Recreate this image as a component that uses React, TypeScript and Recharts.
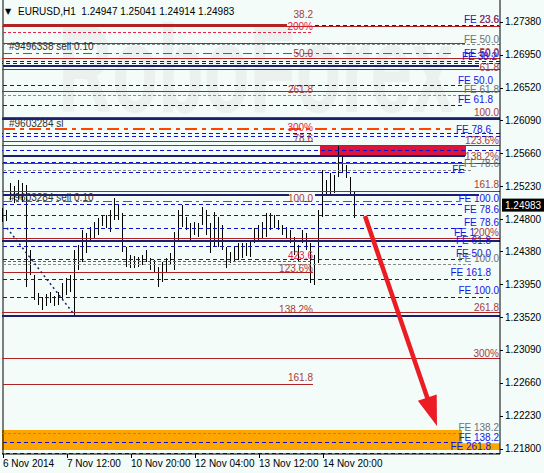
import React from 'react';
import { ComposedChart, Bar, XAxis, YAxis, ReferenceLine, ReferenceArea, ReferenceDot } from 'recharts';

const W = 544;
const H = 473;
const FONT = '"Liberation Sans", Arial, sans-serif';
const BG = '#F3FCF8';

const BROWN = '#B22222';
const BROWN_TEXT = '#A83A3A';
const BLUE = '#1010CC';
const BLUE_TEXT = '#1515E6';
const NAVY = '#1B1F6E';
const GREY = '#8A8A8A';
const GREY_TEXT = '#707070';
const RED = '#E8204A';
const GREEN = '#1E8C1E';
const STOP = '#FF4500';
const ARROW = '#EC1C24';

const titleText = 'EURUSD,H1  1.24947 1.25041 1.24914 1.24983';
const watermarkText = 'RoboForex';
const lastClose = 1.24983;

// H1 bars, one every two hours (hour index = 2 * i)
const highs = [
  1.24945, 1.24919, 1.25272, 1.25233, 1.25311, 1.25272, 1.25246, 1.24396, 1.24070, 1.23834,
  1.23782, 1.23821, 1.23848, 1.23795, 1.23848, 1.23965, 1.24031, 1.24070, 1.24396, 1.24462,
  1.24658, 1.24619, 1.24697, 1.24762, 1.24815, 1.24854, 1.24854, 1.24919, 1.25076, 1.24985,
  1.24880, 1.24436, 1.24331, 1.24318, 1.24305, 1.24331, 1.24396, 1.24292, 1.24266, 1.24174,
  1.24240, 1.24292, 1.24357, 1.24632, 1.24919, 1.24985, 1.24828, 1.24749, 1.24762, 1.24749,
  1.24959, 1.24919, 1.24749, 1.24893, 1.24828, 1.24723, 1.24436, 1.24370, 1.24436, 1.24488,
  1.24488, 1.24488, 1.24527, 1.24684, 1.24723, 1.24762, 1.24880, 1.24880, 1.24854, 1.24789,
  1.24723, 1.24697, 1.24658, 1.24566, 1.24462, 1.24658, 1.24619, 1.24488, 1.24331, 1.24919,
  1.25442, 1.25311, 1.25403, 1.25377, 1.25756, 1.25612, 1.25507, 1.25351, 1.25155,
];
const lows = [
  1.24762, 1.24776, 1.25050, 1.25011, 1.25050, 1.25024, 1.23913, 1.24070, 1.23743, 1.23678,
  1.23612, 1.23665, 1.23704, 1.23665, 1.23678, 1.23743, 1.23808, 1.23848, 1.23547, 1.24135,
  1.24240, 1.24357, 1.24501, 1.24553, 1.24593, 1.24710, 1.24684, 1.24632, 1.24789, 1.24789,
  1.24370, 1.24174, 1.24161, 1.24161, 1.24174, 1.24200, 1.24240, 1.24135, 1.24109, 1.23913,
  1.23978, 1.24109, 1.24200, 1.24135, 1.24527, 1.24697, 1.24658, 1.24501, 1.24593, 1.24566,
  1.24723, 1.24593, 1.24357, 1.24436, 1.24436, 1.24396, 1.24161, 1.24227, 1.24240, 1.24266,
  1.24292, 1.24318, 1.24305, 1.24488, 1.24527, 1.24553, 1.24566, 1.24658, 1.24684, 1.24658,
  1.24593, 1.24553, 1.24488, 1.24331, 1.24240, 1.24488, 1.24396, 1.23965, 1.23939, 1.24227,
  1.24828, 1.25115, 1.25115, 1.25141, 1.25351, 1.25403, 1.25338, 1.25115, 1.24815,
];

const LAST_HOUR = 248;
const yTicks = [1.2738, 1.2695, 1.2652, 1.2609, 1.2566, 1.2523, 1.248, 1.2438, 1.2395, 1.2352, 1.2309, 1.2266, 1.2223, 1.218];
const yDomain = [1.2173, 1.27664];
const xTickHours = [0, 32, 64, 96, 128, 160];
const xTickLabels = ['6 Nov 2014', '7 Nov 12:00', '10 Nov 20:00', '12 Nov 04:00', '13 Nov 12:00', '14 Nov 20:00'];

// levels: [price, from hour, to hour]
const brownLevels = [
  [1.27315, 0, 248], [1.27095, 0, 231], [1.26893, 0, 248], [1.26758, 0, 248], [1.26462, 0, 248],
  [1.26128, 0, 248], [1.25808, 0, 155], [1.25756, 0, 248], [1.25527, 0, 248], [1.25155, 0, 248],
  [1.24549, 0, 248], [1.24096, 0, 155], [1.23586, 0, 248], [1.22981, 0, 248], [1.22641, 0, 155],
];
const brownBoldLevels = [[1.27337, 0, 142]];
const navyLevels = [
  [1.26797, 0, 238], [1.26109, 0, 248], [1.25621, 0, 231], [1.25115, 0, 143], [1.25115, 156, 238],
  [1.24518, 0, 248], [1.23538, 0, 248],
];
const blueLevels = [
  [1.27337, 156, 248], [1.26858, 0, 248], [1.26837, 0, 248], [1.26553, 0, 231], [1.26279, 0, 231],
  [1.25913, 0, 248], [1.25886, 0, 248], [1.25691, 0, 248], [1.25543, 0, 231], [1.25412, 0, 231],
  [1.24991, 0, 230], [1.24848, 0, 230], [1.24680, 0, 230], [1.24440, 0, 231], [1.24272, 0, 231],
  [1.24014, 0, 243], [1.23780, 0, 243], [1.21883, 0, 229], [1.21739, 0, 248],
];
const redDashLevels = [[1.27242, 0, 155], [1.24246, 0, 155]];
const greyLevels = [[1.27080, 0, 248], [1.26413, 0, 233], [1.25442, 0, 235], [1.24210, 0, 235], [1.21992, 0, 229]];
const greenLevels = [[1.26971, 0, 224], [1.25030, 0, 230]];
const stopLevels = [[1.25978, 0, 224]];

// zones: [from hour, to hour, low, high]
const sellZones = [[159, 231, 1.25625, 1.25756]];
const targetZones = [[0, 229, 1.21782, 1.22044], [229, 248, 1.21782, 1.21870]];

const trendLine = [[2, 1.24684], [35, 1.23573]];
const forecastArrow = [[181, 1.24841], [217, 1.22096]];

// labels: [text, hour, price]
const blueLabels = [
  ['FE 23.6', 248, 1.27403], ['FE 50.0', 248, 1.26971], ['FE 38.2', 247, 1.26919], ['FE 50.0', 245, 1.26618],
  ['FE 61.8', 245, 1.26357], ['FE 78.6', 244, 1.25965], ['FE', 231, 1.25455], ['FE 100.0', 248, 1.25063],
  ['FE 78.6', 248, 1.24932], ['FE 78.6', 248, 1.24762], ['FE 1', 236, 1.24619], ['FE 61.8', 244, 1.24527],
  ['FE 50.0', 244, 1.24357], ['FE 161.8', 244, 1.24096], ['FE 100.0', 248, 1.23861], ['FE 138.2', 248, 1.21952],
  ['FE 261.8', 244, 1.21822],
];
const brownLabels = [
  ['38.2', 155, 1.27468], ['23.6', 248, 1.27403], ['50.0', 155, 1.26971], ['50.0', 248, 1.26984],
  ['61.8', 248, 1.26788], ['261.8', 155, 1.26488], ['100.0', 248, 1.26200], ['78.6', 155, 1.25860],
  ['123.6%', 248, 1.25834], ['138.2%', 248, 1.25612], ['161.8', 248, 1.25246], ['100.0', 155, 1.25063],
  ['200%', 248, 1.24619], ['123.6%', 155, 1.24161], ['138.2%', 155, 1.23625], ['261.8', 248, 1.23651],
  ['300%', 248, 1.23050], ['161.8', 155, 1.22724],
];
const redLabels = [['200%', 155, 1.27324], ['300%', 155, 1.25991], ['423.6', 155, 1.24318]];
const greyLabels = [
  ['FE 50.0', 248, 1.27154], ['FE 61.8', 248, 1.26488], ['FE 78.6', 248, 1.25521],
  ['FE 100.0', 248, 1.24279], ['FE 138.2', 248, 1.22070],
];
const orderLabels = [['#9496338 sell 0.10', 3, 1.27050], ['#9603284 sl', 3, 1.26056], ['#9603284 sell 0.10', 3, 1.25089]];

const chartData = Array.from({ length: LAST_HOUR + 1 }, (_, h) => {
  const i = h / 2;
  const has = h % 2 === 0 && i < highs.length;
  return { h, range: has ? [lows[i], highs[i]] : null };
});

const flatLine = (props: any) => {
  const { x1, x2, y1, stroke, strokeWidth, strokeDasharray } = props;
  const w = Number(strokeWidth) || 1;
  const y = w % 2 === 1 ? Math.round(y1 - 0.5) + 0.5 : Math.round(y1);
  return <line x1={x1} x2={x2} y1={y} y2={y} stroke={stroke} strokeWidth={w} strokeDasharray={strokeDasharray} />;
};

const ohlcBar = (props: any) => {
  const { x, y, width, height, payload } = props;
  if (!payload || !payload.range) return <g />;
  const cx = Math.floor(x + width / 2) + 0.5;
  const top = Math.round(Math.min(y, y + height));
  const bottom = Math.round(Math.max(y, y + height));
  return <line x1={cx} x2={cx} y1={top} y2={bottom} stroke="#000" strokeWidth={1} />;
};

const arrowShape = (props: any) => {
  const { x1, y1, x2, y2 } = props;
  const len = Math.hypot(x2 - x1, y2 - y1);
  const ux = (x2 - x1) / len;
  const uy = (y2 - y1) / len;
  const bx = x2 - ux * 30;
  const by = y2 - uy * 30;
  return (
    <g>
      <line x1={x1} y1={y1} x2={bx + ux * 3} y2={by + uy * 3} stroke={ARROW} strokeWidth={4.5} />
      <polygon points={`${x2},${y2} ${bx - uy * 10},${by + ux * 10} ${bx + uy * 10},${by - ux * 10}`} fill={ARROW} />
    </g>
  );
};

const textShape = (text: string, color: string, anchor: 'start' | 'end') => (props: any) => (
  <text x={props.cx} y={props.cy + 3.5} textAnchor={anchor} fill={color} fontSize={10} fontFamily={FONT}>
    {text}
  </text>
);

const levelProps = (p: number, a: number, b: number) =>
  a === 0 && b === LAST_HOUR ? { y: p } : { segment: [{ x: a, y: p }, { x: b, y: p }] };

const renderLevels = (levels: number[][], key: string, stroke: string, width: number, dash?: string) =>
  levels.map(([p, a, b], i) => (
    <ReferenceLine
      key={key + i}
      {...(levelProps(p, a, b) as any)}
      stroke={stroke}
      strokeWidth={width}
      strokeDasharray={dash}
      shape={flatLine}
    />
  ));

const renderLabels = (labels: any[][], key: string, color: string, anchor: 'start' | 'end') =>
  labels.map(([t, h, p], i) => (
    <ReferenceDot key={key + i} x={h} y={p} r={0} shape={textShape(t, color, anchor)} />
  ));

const YTick = (props: any) => {
  const { x, y, payload } = props;
  const v = payload.value;
  if (v === lastClose) {
    return (
      <g>
        <rect x={x + 2} y={y - 6.5} width={44} height={13} fill="#000" />
        <text x={x + 5} y={y + 3.5} fill="#fff" fontSize={10} fontFamily={FONT}>{v.toFixed(5)}</text>
      </g>
    );
  }
  return (
    <g>
      <line x1={x} x2={x + 3} y1={Math.round(y) + 0.5} y2={Math.round(y) + 0.5} stroke="#000" />
      <text x={x + 5} y={y + 3.5} fill="#000" fontSize={10} fontFamily={FONT}>{v.toFixed(5)}</text>
    </g>
  );
};

const XTick = (props: any) => {
  const { x, y, payload } = props;
  const idx = xTickHours.indexOf(payload.value);
  return (
    <g>
      <line x1={Math.floor(x) + 0.5} x2={Math.floor(x) + 0.5} y1={y} y2={y + 4} stroke="#000" />
      <text x={x} y={y + 13} fill="#000" fontSize={10} fontFamily={FONT}>{xTickLabels[idx]}</text>
    </g>
  );
};

export default function App() {
  return (
    <div style={{ position: 'fixed', left: 0, top: 0, width: W, height: H, background: BG, overflow: 'hidden' }}>
      <svg width={W} height={H} style={{ position: 'absolute', left: 0, top: 0 }}>
        <text transform="translate(58,112) scale(1,1.65)" fontSize={75} fontWeight="bold" fontFamily={FONT} fill="#EAF1EE">
          {watermarkText}
        </text>
        <text x={5} y={14} fontSize={8} fontFamily="DejaVu Sans" fill="#000">▼</text>
        <text x={18} y={15} fontSize={10} fontFamily={FONT} fill="#000" style={{ whiteSpace: 'pre' }}>{titleText}</text>
      </svg>
      <div style={{ position: 'absolute', left: 0, top: 0 }}>
        <ComposedChart width={W} height={H} data={chartData} margin={{ top: 0, right: 0, bottom: 0, left: 2 }} barCategoryGap={0}>
          <XAxis
            dataKey="h"
            type="category"
            ticks={xTickHours}
            interval={0}
            height={19}
            tickSize={0}
            tickMargin={0}
            tickLine={false}
            axisLine={{ stroke: '#000' }}
            tick={<XTick />}
          />
          <YAxis
            orientation="right"
            type="number"
            domain={yDomain}
            allowDataOverflow
            ticks={[...yTicks, lastClose]}
            interval={0}
            width={44}
            tickSize={0}
            tickMargin={0}
            tickLine={false}
            axisLine={{ stroke: '#000' }}
            tick={<YTick />}
          />
          {targetZones.map(([a, b, lo, hi], i) => (
            <ReferenceArea key={'tz' + i} x1={a} x2={b} y1={lo} y2={hi} fill="#FFA500" fillOpacity={1} stroke="none" />
          ))}
          {sellZones.map(([a, b, lo, hi], i) => (
            <ReferenceArea key={'sz' + i} x1={a} x2={b} y1={lo} y2={hi} fill="#DC143C" fillOpacity={1} stroke="none" />
          ))}
          <ReferenceLine x={0} stroke="#000" />
          {renderLevels(brownLevels, 'br', BROWN, 1)}
          {renderLevels(brownBoldLevels, 'bb', BROWN, 2)}
          {renderLevels(blueLevels, 'bl', BLUE, 1, '4 3')}
          {renderLevels(greyLevels, 'gr', GREY, 1, '3 2')}
          {renderLevels(redDashLevels, 'rd', RED, 1, '3 2')}
          {renderLevels(greenLevels, 'gn', GREEN, 1, '9 4 3 4')}
          {renderLevels(stopLevels, 'st', STOP, 2, '12 5 4 5')}
          {renderLevels(navyLevels, 'nv', NAVY, 2)}
          <ReferenceLine
            segment={[{ x: trendLine[0][0], y: trendLine[0][1] }, { x: trendLine[1][0], y: trendLine[1][1] }]}
            stroke={NAVY}
            strokeWidth={1.5}
            strokeDasharray="2 3"
          />
          <Bar dataKey="range" barSize={2} isAnimationActive={false} shape={ohlcBar} />
          {renderLabels(blueLabels, 'lb', BLUE_TEXT, 'end')}
          {renderLabels(greyLabels, 'lg', GREY_TEXT, 'end')}
          {renderLabels(brownLabels, 'lw', BROWN_TEXT, 'end')}
          {renderLabels(redLabels, 'lr', RED, 'end')}
          {renderLabels(orderLabels, 'lo', '#303030', 'start')}
          <ReferenceLine
            segment={[{ x: forecastArrow[0][0], y: forecastArrow[0][1] }, { x: forecastArrow[1][0], y: forecastArrow[1][1] }]}
            shape={arrowShape}
          />
        </ComposedChart>
      </div>
    </div>
  );
}
